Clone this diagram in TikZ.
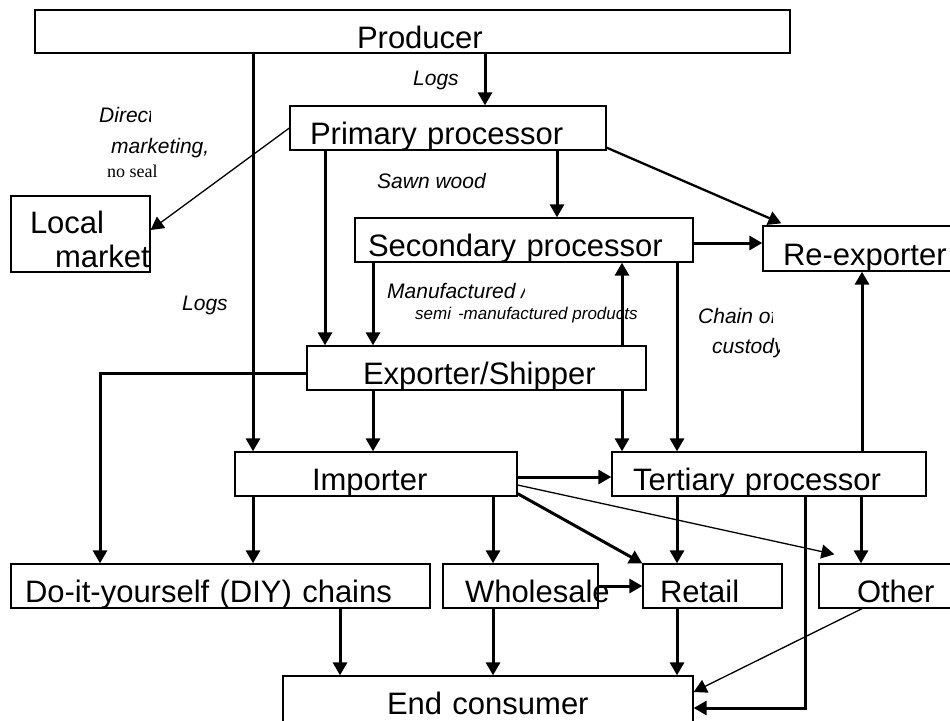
\documentclass[tikz,border=0pt]{standalone}
\usepackage{fontspec}
\setmainfont{Liberation Sans}
\newfontfamily\sealfont{Liberation Serif}
\usetikzlibrary{arrows.meta}
\tikzset{stage/.style = {draw, line width = 1.3pt, inner sep = 0pt,
    minimum height = 44pt, text height = 33pt, text depth = 0pt,
    align = left, font = \fontsize{31}{34}\selectfont,
    execute at begin node = {\hyphenpenalty = 10000 \exhyphenpenalty = 10000}
    }
}
\tikzset{flow/.style = {line width = 3pt, -{Triangle[length = 13pt, width = 14pt]}}}
\tikzset{thinflow/.style = {flow, line width = 1.3pt}}
\tikzset{note/.style = {anchor = base west, inner sep = 0pt,
    font = \itshape\fontsize{21}{24}\selectfont}}

\begin{document}
\begin{tikzpicture}[x = 1pt, y = -1pt]

    \useasboundingbox (0,0) rectangle (950,720);
    \clip (0,0) rectangle (950,720);

    % boxes, text pushed in from the left edge
    \node (producer) [stage, text width = 755pt, minimum height = 43pt] at (412.5,31.5) {\hspace*{322pt}Producer};
    \node (primary) [stage, text width = 316pt] at (448,128) {\hspace*{20pt}Primary processor};
    \node (local) [stage, text width = 139pt, minimum height = 76pt,
        text height = 36pt, text depth = 38pt] at (80.5,234) {\hspace*{19pt}Local\\\hspace*{44pt}market};
    \node (secondary) [stage, text width = 338pt] at (524,240) {\hspace*{13pt}Secondary processor};
    \node (reexporter) [stage, text width = 205pt, minimum height = 45pt] at (865.5,248.5) {\hspace*{20pt}Re-exporter};
    \node (exporter) [stage, text width = 339pt] at (476.5,368) {\hspace*{56pt}Exporter/Shipper};
    \node (importer) [stage, text width = 282pt] at (376,474) {\hspace*{77pt}Importer};
    \node (tertiary) [stage, text width = 314pt] at (769,474) {\hspace*{21pt}Tertiary processor};
    \node (diy) [stage, text width = 419pt] at (220.5,586) {\hspace*{14pt}Do-it-yourself (DIY) chains};
    \node (wholesale) [stage, text width = 155pt] at (520.5,586) {\hspace*{22pt}Wholesale};
    \node (retail) [stage, text width = 139pt] at (712.5,586) {\hspace*{17pt}Retail};
    \node (other) [stage, text width = 153pt] at (895.5,586) {\hspace*{38pt}Other};
    \node (consumer) [stage, text width = 410pt, minimum height = 46pt, text height = 30pt] at (488,699) {\hspace*{104pt}End consumer};

    % labels
    \node (logsa) [note] at (413,85) {Logs};
    \begin{scope}
        \clip (0,0) rectangle (150,720);
        \node (direct) [note] at (99,122) {Direct};
    \end{scope}
    \node (marketing) [note] at (111,153) {marketing,};
    \node (noseal) [note, font = \sealfont\fontsize{18}{20}\selectfont] at (107,177) {no seal};
    \node (sawn) [note] at (377,188) {Sawn wood};
    \node (logsb) [note] at (182,310) {Logs};
    \begin{scope}
        \clip (0,0) rectangle (524,720);
        \node (manuf) [note] at (387,298) {Manufactured /};
    \end{scope}
    \node (semi) [note, font = \itshape\fontsize{17}{20}\selectfont] at (415,319) {semi\hspace{7pt}-manufactured products};
    \begin{scope}
        \clip (0,0) rectangle (772,720);
        \node (chain) [note] at (698,323) {Chain of};
    \end{scope}
    \begin{scope}
        \clip (0,0) rectangle (779,720);
        \node (custody) [note] at (712,353) {custody};
    \end{scope}

    % flows
    \draw[flow] (producer.south -| 485,0) -- (primary.north -| 485,0);
    \draw[flow] (producer.south -| 253,0) -- (importer.north -| 253,0);
    \draw[thinflow] (primary.west) -- ([yshift = 4pt]local.east);
    \draw[flow] (primary.south -| 557,0) -- (secondary.north -| 557,0);
    \draw[flow, line width = 2.3pt] ([yshift = 3pt]primary.south east) -- ([xshift = 19pt, yshift = 2pt]reexporter.north west);
    \draw[flow] (secondary.east |- 0,243) -- (reexporter.west |- 0,243);
    \draw[flow] (primary.south -| 325,0) -- (exporter.north -| 325,0);
    \draw[flow] (secondary.south -| 373,0) -- (exporter.north -| 373,0);
    \draw[flow] (exporter.north -| 622,0) -- (secondary.south -| 622,0);
    \draw[flow] (secondary.south -| 677,0) -- (tertiary.north -| 677,0);
    \draw[flow] (exporter.west |- 0,373) -| (diy.north -| 100,0);
    \draw[flow] (exporter.south -| 373,0) -- (importer.north -| 373,0);
    \draw[flow] (exporter.south -| 622,0) -- (tertiary.north -| 622,0);
    \draw[flow] (tertiary.north -| 862,0) -- (reexporter.south -| 862,0);
    \draw[flow] (importer.east |- 0,477) -- (tertiary.west |- 0,477);
    \draw[flow] (importer.south -| 253,0) -- (diy.north -| 253,0);
    \draw[flow] (importer.south -| 493,0) -- (wholesale.north -| 493,0);
    \draw[flow] ([yshift = 3pt]importer.south east) -- (retail.north west);
    \draw[thinflow] ([yshift = -11pt]importer.east) -- ([xshift = 16pt, yshift = 9pt]other.north west);
    \draw[flow] (tertiary.south -| 677,0) -- (retail.north -| 677,0);
    \draw[flow] (tertiary.south -| 861,0) -- (other.north -| 861,0);
    \draw[flow] (tertiary.south -| 805,0) |- (consumer.east |- 0,708);
    \draw[flow] (wholesale.east) -- (retail.west);
    \draw[thinflow] (other.south -| 862,0) -- (consumer.east |- 0,692);
    \draw[flow] (diy.south -| 340,0) -- (consumer.north -| 340,0);
    \draw[flow] (wholesale.south -| 493,0) -- (consumer.north -| 493,0);
    \draw[flow] (retail.south -| 677,0) -- (consumer.north -| 677,0);

\end{tikzpicture}
\end{document}
